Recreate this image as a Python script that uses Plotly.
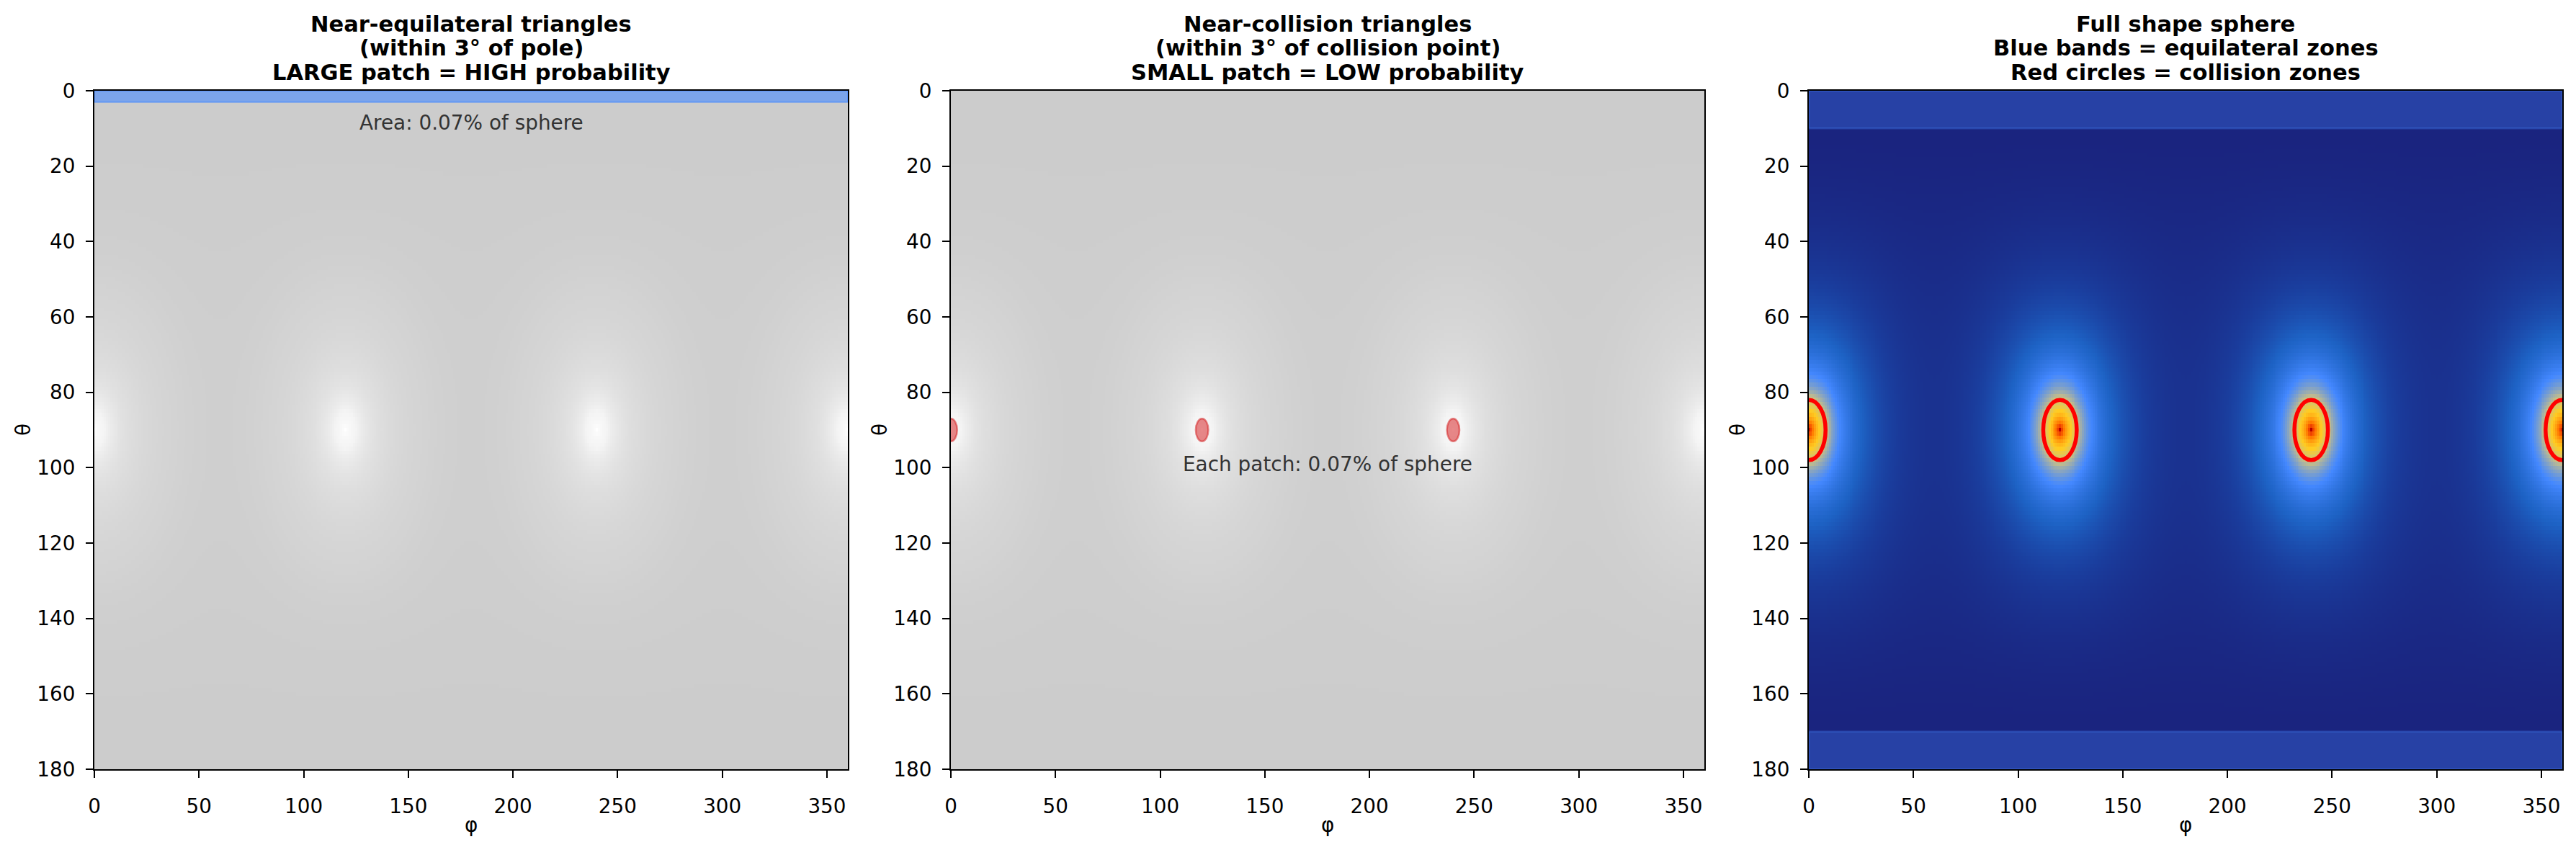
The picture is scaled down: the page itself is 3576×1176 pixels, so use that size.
import numpy as np
import plotly.graph_objects as go

# ---------------- data ----------------
collision_phi = [0, 120, 240]          # collision points on the equator (deg)
collision_theta = [90, 90, 90]
circle_phi = [0, 120, 240, 360]         # where the markers are drawn
profile_scale = 4.0                     # angular scale of density peak (deg)
pole_cap_deg = 3                        # near-equilateral cap
patch_radius = 3                        # near-collision patch radius
zone_radius = 8                         # red circles in panel 3
band_top = [0, 10]
band_bottom = [170, 180]
phi_ticks = [0, 50, 100, 150, 200, 250, 300, 350]
theta_ticks = [0, 20, 40, 60, 80, 100, 120, 140, 160, 180]
titles = [
    ["Near-equilateral triangles", "(within 3° of pole)", "LARGE patch = HIGH probability"],
    ["Near-collision triangles", "(within 3° of collision point)", "SMALL patch = LOW probability"],
    ["Full shape sphere", "Blue bands = equilateral zones", "Red circles = collision zones"],
]
area_text_1 = "Area: 0.07% of sphere"
area_text_2 = "Each patch: 0.07% of sphere"

# ---------------- field on sphere grid ----------------
phi = np.linspace(0, 360, 361)
theta = np.linspace(0, 180, 181)
P, T = np.meshgrid(np.radians(phi), np.radians(theta))
field = np.zeros_like(P)
for cp, ct in zip(collision_phi, collision_theta):
    cp_r, ct_r = np.radians(cp), np.radians(ct)
    cosd = np.cos(T) * np.cos(ct_r) + np.sin(T) * np.sin(ct_r) * np.cos(P - cp_r)
    d = np.degrees(np.arccos(np.clip(cosd, -1, 1)))
    field += 1.0 / (1.0 + d / profile_scale)
h = (field - field.min()) / (field.max() - field.min())

# page body has an 8px margin: work in page pixels and shift by it
OFF = 8
W, H = 3576 - 2 * OFF, 1176 - 2 * OFF
left = [131 - OFF, 1320 - OFF, 2511 - OFF]
right = [1177 - OFF, 2366 - OFF, 3557 - OFF]
top, bottom = 126 - OFF, 1068 - OFF
ydom = [1 - bottom / H, 1 - top / H]
FONT = "DejaVu Sans"
TICK_SIZE = 27.8
TITLE_SIZE = 30.5
NOTE_SIZE = 27.9

def py(page_y):
    return 1 - (page_y - OFF) / H

gray_scale = [
    [0.0, "rgb(204,204,204)"],
    [0.02, "rgb(207,207,207)"],
    [0.04, "rgb(211,211,211)"],
    [0.11, "rgb(219,219,219)"],
    [0.24, "rgb(231,231,231)"],
    [0.41, "rgb(244,244,244)"],
    [1.0, "rgb(255,255,255)"],
]
hot_scale = [
    [0.0, "#1a237e"],
    [0.035, "#1a3c9c"],
    [0.08, "#1d62c4"],
    [0.16, "#4488ff"],
    [0.27, "#c8bf86"],
    [0.4, "#ffcc22"],
    [0.64, "#ff7a00"],
    [0.85, "#e82a00"],
    [1.0, "#b80000"],
]

fig = go.Figure()
for k in range(3):
    sfx = "" if k == 0 else str(k + 1)
    fig.add_trace(go.Heatmap(
        x=phi, y=theta, z=h,
        colorscale=gray_scale if k < 2 else hot_scale,
        zmin=0, zmax=1, showscale=False,
        xaxis="x" + sfx, yaxis="y" + sfx, hoverinfo="skip",
    ))
    axcommon = dict(showline=True, mirror=True, linecolor="black", linewidth=2.2,
                    ticks="outside", ticklen=10, tickwidth=2.2, tickcolor="black",
                    tickfont=dict(family=FONT, size=TICK_SIZE, color="black"),
                    showgrid=False, zeroline=False, automargin=False)
    fig.update_layout(**{
        "xaxis" + sfx: dict(domain=[left[k] / W, right[k] / W], range=[0, 360],
                            tickvals=phi_ticks, anchor="y" + sfx,
                            ticklabelstandoff=16, **axcommon),
        "yaxis" + sfx: dict(domain=ydom, range=[180, 0], tickvals=theta_ticks,
                            anchor="x" + sfx, ticklabelstandoff=9, **axcommon),
    })
    cx = (left[k] + right[k]) / 2 / W
    for i, line in enumerate(titles[k]):
        fig.add_annotation(x=cx, y=py(33 + 33.5 * i), xref="paper", yref="paper",
                           text="<b>" + line + "</b>", showarrow=False,
                           font=dict(family=FONT, size=TITLE_SIZE, color="black"),
                           xanchor="center", yanchor="middle")
    fig.add_annotation(x=cx, y=py(1145), xref="paper", yref="paper", text="φ",
                       showarrow=False, font=dict(family=FONT, size=TICK_SIZE, color="black"),
                       xanchor="center", yanchor="middle")
    fig.add_annotation(x=(left[k] - 99) / W, y=(ydom[0] + ydom[1]) / 2, xref="paper",
                       yref="paper", text="θ", textangle=-90, showarrow=False,
                       font=dict(family=FONT, size=TICK_SIZE, color="black"),
                       xanchor="center", yanchor="middle")

# panel 1: polar cap
fig.add_shape(type="rect", xref="x", yref="y", x0=0, x1=360, y0=0, y1=pole_cap_deg,
              fillcolor="rgba(68,136,255,0.6)", line=dict(color="rgba(68,136,255,0.6)", width=2))
fig.add_annotation(x=180, y=8.5, xref="x", yref="y", text=area_text_1, showarrow=False,
                   font=dict(family=FONT, size=NOTE_SIZE, color="#333333"))

# panel 2: collision patches
for cp, ct in zip(collision_phi, collision_theta):
    fig.add_shape(type="circle", xref="x2", yref="y2",
                  x0=cp - patch_radius, x1=cp + patch_radius,
                  y0=ct - patch_radius, y1=ct + patch_radius,
                  fillcolor="rgba(214,39,40,0.55)", line=dict(color="rgba(214,39,40,0.55)", width=2.5))
fig.add_annotation(x=180, y=99, xref="x2", yref="y2", text=area_text_2, showarrow=False,
                   font=dict(family=FONT, size=NOTE_SIZE, color="#333333"))

# panel 3: bands and circles
for b in (band_top, band_bottom):
    fig.add_shape(type="rect", xref="x3", yref="y3", x0=0, x1=360, y0=b[0], y1=b[1],
                  fillcolor="rgba(68,136,255,0.3)", line=dict(color="rgba(68,136,255,0.3)", width=2.5))
for cp in circle_phi:
    fig.add_shape(type="circle", xref="x3", yref="y3",
                  x0=cp - zone_radius, x1=cp + zone_radius, y0=90 - zone_radius, y1=90 + zone_radius,
                  line=dict(color="red", width=5.5))

fig.update_layout(width=W, height=H, margin=dict(l=0, r=0, t=0, b=0),
                  paper_bgcolor="white", plot_bgcolor="white", showlegend=False,
                  font=dict(family=FONT))
fig.write_html("out.html")
